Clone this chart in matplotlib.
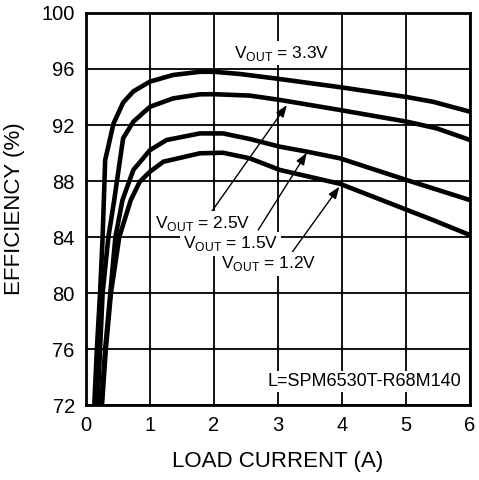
import matplotlib
matplotlib.use("Agg")
import matplotlib.pyplot as plt

plt.rcParams['font.family'] = ['Liberation Sans', 'DejaVu Sans']

# efficiency curves (load current in A, efficiency in %)
i_33 = [0.13, 0.17, 0.22, 0.26, 0.30, 0.43, 0.58, 0.74, 1.0, 1.36, 1.78, 2.0, 2.41, 3.0, 3.97, 5.01, 5.42, 6.0]
e_33 = [72, 76, 80, 84, 89.5, 92.1, 93.6, 94.4, 95.1, 95.57, 95.8, 95.8, 95.64, 95.3, 94.7, 94.0, 93.66, 92.95]

i_25 = [0.18, 0.22, 0.26, 0.35, 0.44, 0.58, 0.74, 1.0, 1.36, 1.78, 2.0, 2.56, 3.03, 3.97, 5.01, 5.48, 6.0]
e_25 = [72, 76, 80, 84, 86.6, 91.05, 92.24, 93.3, 93.9, 94.19, 94.2, 94.1, 93.79, 93.07, 92.24, 91.76, 90.93]

i_15 = [0.24, 0.30, 0.38, 0.46, 0.57, 0.74, 1.0, 1.26, 1.78, 2.14, 2.56, 3.03, 3.45, 3.97, 5.01, 6.0]
e_15 = [72, 76, 80, 84, 86.64, 88.79, 90.21, 90.93, 91.4, 91.4, 91.0, 90.45, 90.1, 89.62, 88.07, 86.64]

i_12 = [0.25, 0.31, 0.39, 0.52, 0.70, 0.84, 1.0, 1.21, 1.78, 2.14, 2.56, 3.03, 3.97, 5.43, 6.0]
e_12 = [72, 76, 80, 84, 86.64, 87.95, 88.67, 89.38, 89.98, 90.02, 89.62, 88.79, 87.8, 85.2, 84.14]

labels = [r'V$_{\mathregular{OUT}}$ = 3.3V', r'V$_{\mathregular{OUT}}$ = 2.5V',
          r'V$_{\mathregular{OUT}}$ = 1.5V', r'V$_{\mathregular{OUT}}$ = 1.2V']
label_pos = [(3.06, 97.12), (1.83, 85.0), (2.26, 83.52), (2.86, 82.1)]
arrow_tail = [None, (1.96, 85.8), (2.69, 84.5), (3.14, 82.4)]
arrow_head = [None, (3.14, 93.43), (3.45, 90.02), (3.96, 87.6)]

fig = plt.figure(figsize=(4.79, 4.8), dpi=100)
ax = fig.add_axes([0.1795, 0.156, 0.8017, 0.817])

for xs, ys in [(i_33, e_33), (i_25, e_25), (i_15, e_15), (i_12, e_12)]:
    ax.plot(xs, ys, color='black', lw=3.3, solid_joinstyle='miter', zorder=3)

ax.set_xlim(0, 6)
ax.set_ylim(72, 100)
ax.set_xticks(range(0, 7))
ax.set_yticks(range(72, 101, 4))
ax.grid(True, color='black', lw=1.3)
ax.set_axisbelow(True)
ax.tick_params(length=0, labelsize=14.5, pad=8)
for s in ax.spines.values():
    s.set_linewidth(2)

ax.set_xlabel('LOAD CURRENT (A)', fontsize=16, labelpad=11)
ax.set_ylabel('EFFICIENCY (%)', fontsize=16, labelpad=12)

for k in range(4):
    ax.text(label_pos[k][0], label_pos[k][1], labels[k], fontsize=12.5,
            ha='center', va='center', zorder=5,
            bbox=dict(boxstyle='square,pad=0.15', fc='white', ec='none'))
    if arrow_tail[k] is not None:
        ax.annotate('', xy=arrow_head[k], xytext=arrow_tail[k], zorder=4,
                    arrowprops=dict(arrowstyle='-|>,head_length=0.6,head_width=0.22',
                                    color='black', lw=1.0, shrinkA=0, shrinkB=0,
                                    mutation_scale=12))

ax.text(0.978, 0.06, 'L=SPM6530T-R68M140', transform=ax.transAxes, fontsize=13,
        ha='right', va='center', zorder=5,
        bbox=dict(boxstyle='square,pad=0.12', fc='white', ec='none'))

fig.savefig('out.png', dpi=100)
